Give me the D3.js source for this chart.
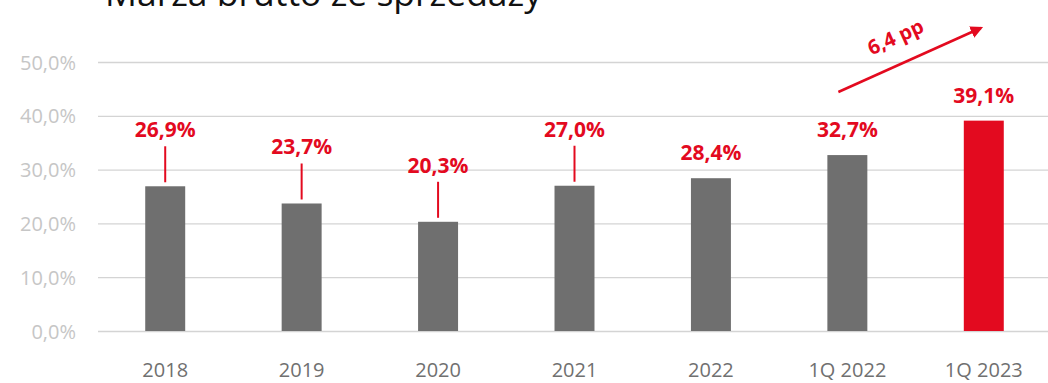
<!DOCTYPE html>
<html>
<head>
<meta charset="utf-8">
<script src="https://cdn.jsdelivr.net/npm/d3@7"></script>
<style>
  html, body { margin: 0; padding: 0; background: #fff; }
  svg { display: block; }
</style>
</head>
<body>
<svg id="chart" width="1048" height="383"></svg>
<script>
// Gross sales margin by period
const categories = ["2018", "2019", "2020", "2021", "2022", "1Q 2022", "1Q 2023"];
const values = [26.9, 23.7, 20.3, 27.0, 28.4, 32.7, 39.1];
const leader = [true, true, true, true, false, false, false];
const yTicks = [0, 10, 20, 30, 40, 50];
const changeLabel = "6,4 pp";
const title = "Marża brutto ze sprzedaży";

const W = 1048, H = 383;
const svg = d3.select("#chart");

const x = d3.scaleBand().domain(categories).range([97, 1052]).paddingInner(0.707).paddingOuter(0.3535);
const y = d3.scaleLinear().domain([0, 50]).range([331, 62]);

const fmt = v => d3.format(".1f")(v).replace(".", ",") + "%";
const red = "#e30a1f";
const font = "'Open Sans', sans-serif";

// Title (runs off the top edge)
svg.append("text")
  .attr("x", 105).attr("y", 6)
  .attr("font-family", font)
  .attr("font-size", 35.5)
  .attr("fill", "#111")
  .text(title);

// Gridlines + y axis
const yAxis = d3.axisLeft(y).tickValues(yTicks).tickSize(-(W - 98)).tickFormat(d => fmt(d));
const gy = svg.append("g").attr("transform", "translate(98,0)").call(yAxis);
gy.select(".domain").remove();
gy.selectAll(".tick line").attr("stroke", "#d4d4d4").attr("stroke-width", 1.3);
gy.selectAll(".tick text")
  .attr("x", -22).attr("dy", "0.35em")
  .attr("fill", "#c6c6c6")
  .attr("font-family", font)
  .attr("font-size", 20);

// x axis labels
const xAxis = d3.axisBottom(x).tickSize(0).tickPadding(0);
const gx = svg.append("g").attr("transform", "translate(0,363)").call(xAxis);
gx.select(".domain").remove();
gx.selectAll(".tick text")
  .attr("dy", "0.71em")
  .attr("y", 0)
  .attr("fill", "#707070")
  .attr("font-family", font)
  .attr("font-size", 20);

// Bars
svg.append("g").selectAll("rect")
  .data(values)
  .join("rect")
  .attr("x", (d, i) => x(categories[i]))
  .attr("width", x.bandwidth())
  .attr("y", d => y(d))
  .attr("height", d => y(0) - y(d))
  .attr("fill", (d, i) => i === values.length - 1 ? red : "#6f6f6f");

// Leader lines from labels to bar tops
svg.append("g").selectAll("line")
  .data(values.map((v, i) => ({ v, i })).filter(d => leader[d.i]))
  .join("line")
  .attr("x1", d => x(categories[d.i]) + x.bandwidth() / 2)
  .attr("x2", d => x(categories[d.i]) + x.bandwidth() / 2)
  .attr("y1", d => y(d.v) - 40)
  .attr("y2", d => y(d.v) - 4)
  .attr("stroke", red)
  .attr("stroke-width", 2);

// Value labels
svg.append("g").selectAll("text")
  .data(values)
  .join("text")
  .attr("x", (d, i) => x(categories[i]) + x.bandwidth() / 2)
  .attr("y", (d, i) => y(d) - (leader[i] ? 49 : 18))
  .attr("text-anchor", "middle")
  .attr("fill", red)
  .attr("font-family", font)
  .attr("font-weight", 700)
  .attr("font-size", 21)
  .text(d => fmt(d));

// Change arrow between 1Q 2022 and 1Q 2023
const defs = svg.append("defs");
defs.append("marker")
  .attr("id", "arrowhead")
  .attr("viewBox", "0 0 10 10")
  .attr("refX", 8).attr("refY", 5)
  .attr("markerWidth", 5).attr("markerHeight", 5)
  .attr("orient", "auto")
  .append("path").attr("d", "M0,0 L10,5 L0,10 z").attr("fill", red);

const ax1 = x("1Q 2022") + x.bandwidth() / 2 - 9, ay1 = 92;
const ax2 = x("1Q 2023") + x.bandwidth() / 2 - 3, ay2 = 28;
svg.append("line")
  .attr("x1", ax1).attr("y1", ay1)
  .attr("x2", ax2).attr("y2", ay2)
  .attr("stroke", red).attr("stroke-width", 2.5)
  .attr("marker-end", "url(#arrowhead)");

const ang = Math.atan2(ay2 - ay1, ax2 - ax1) * 180 / Math.PI;
svg.append("text")
  .attr("transform", `translate(${(ax1 + ax2) / 2 - 14},${(ay1 + ay2) / 2 - 23}) rotate(${ang})`)
  .attr("text-anchor", "middle")
  .attr("dy", "0.35em")
  .attr("fill", red)
  .attr("font-family", font)
  .attr("font-weight", 700)
  .attr("font-size", 20)
  .text(changeLabel);
</script>
</body>
</html>
